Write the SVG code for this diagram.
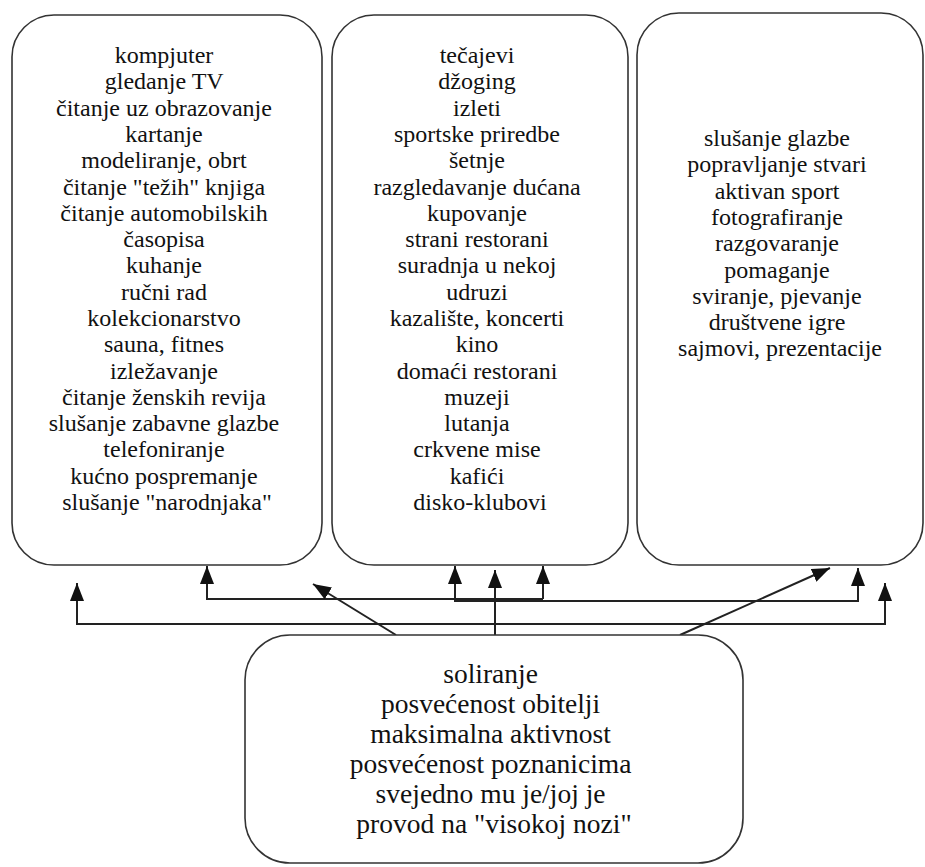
<svg xmlns="http://www.w3.org/2000/svg" width="925" height="867" viewBox="0 0 925 867">
<defs>
<style>
.box{fill:#fff;stroke:#333;stroke-width:1.6}
.t{font-family:"Liberation Serif","Times New Roman",serif;font-size:24px;fill:#111;text-anchor:middle}
.tb{font-family:"Liberation Serif","Times New Roman",serif;font-size:27.5px;fill:#111;text-anchor:middle}
.c{fill:none;stroke:#222;stroke-width:2}
</style>
<marker id="ah" markerUnits="userSpaceOnUse" markerWidth="18" markerHeight="14" refX="18" refY="7" orient="auto">
<path d="M0,0 L18,7 L0,14 z" fill="#111"/>
</marker>
</defs>
<rect width="925" height="867" fill="#fff"/>
<g id="connectors">
<polyline class="c" points="207,566 207,599 543,599"/>
<polyline class="c" points="455,566 455,601 858,601 858,568"/>
<line class="c" x1="543" y1="599" x2="543" y2="566" marker-end="url(#ah)"/>
<line class="c" x1="207" y1="599" x2="207" y2="566" marker-end="url(#ah)"/>
<line class="c" x1="455" y1="601" x2="455" y2="566" marker-end="url(#ah)"/>
<line class="c" x1="858" y1="601" x2="858" y2="568" marker-end="url(#ah)"/>
<polyline class="c" points="77,583 77,624 885,624 885,583"/>
<line class="c" x1="77" y1="624" x2="77" y2="583" marker-end="url(#ah)"/>
<line class="c" x1="885" y1="624" x2="885" y2="583" marker-end="url(#ah)"/>
<line class="c" x1="495" y1="635" x2="495" y2="570" marker-end="url(#ah)"/>
<line class="c" x1="396" y1="635" x2="313" y2="584" marker-end="url(#ah)"/>
<line class="c" x1="680" y1="635" x2="830" y2="568" marker-end="url(#ah)"/>
</g>
<g id="left">
<rect class="box" x="12" y="15" width="310" height="550" rx="42"/>
<text class="t" x="167" y="63">
<tspan x="167">kompjuter</tspan>
<tspan x="167" dy="26.3">gledanje TV</tspan>
<tspan x="167" dy="26.3">čitanje uz obrazovanje</tspan>
<tspan x="167" dy="26.3">kartanje</tspan>
<tspan x="167" dy="26.3">modeliranje, obrt</tspan>
<tspan x="167" dy="26.3">čitanje "težih" knjiga</tspan>
<tspan x="167" dy="26.3">čitanje automobilskih</tspan>
<tspan x="167" dy="26.3">časopisa</tspan>
<tspan x="167" dy="26.3">kuhanje</tspan>
<tspan x="167" dy="26.3">ručni rad</tspan>
<tspan x="167" dy="26.3">kolekcionarstvo</tspan>
<tspan x="167" dy="26.3">sauna, fitnes</tspan>
<tspan x="167" dy="26.3">izležavanje</tspan>
<tspan x="167" dy="26.3">čitanje ženskih revija</tspan>
<tspan x="167" dy="26.3">slušanje zabavne glazbe</tspan>
<tspan x="167" dy="26.3">telefoniranje</tspan>
<tspan x="167" dy="26.3">kućno pospremanje</tspan>
<tspan x="167" dy="26.3">slušanje "narodnjaka"</tspan>
</text>
</g>
<g id="middle">
<rect class="box" x="332" y="15" width="296" height="550" rx="42"/>
<text class="t" x="480" y="63">
<tspan x="480">tečajevi</tspan>
<tspan x="480" dy="26.3">džoging</tspan>
<tspan x="480" dy="26.3">izleti</tspan>
<tspan x="480" dy="26.3">sportske priredbe</tspan>
<tspan x="480" dy="26.3">šetnje</tspan>
<tspan x="480" dy="26.3">razgledavanje dućana</tspan>
<tspan x="480" dy="26.3">kupovanje</tspan>
<tspan x="480" dy="26.3">strani restorani</tspan>
<tspan x="480" dy="26.3">suradnja u nekoj</tspan>
<tspan x="480" dy="26.3">udruzi</tspan>
<tspan x="480" dy="26.3">kazalište, koncerti</tspan>
<tspan x="480" dy="26.3">kino</tspan>
<tspan x="480" dy="26.3">domaći restorani</tspan>
<tspan x="480" dy="26.3">muzeji</tspan>
<tspan x="480" dy="26.3">lutanja</tspan>
<tspan x="480" dy="26.3">crkvene mise</tspan>
<tspan x="480" dy="26.3">kafići</tspan>
<tspan x="480" dy="26.3">disko-klubovi</tspan>
</text>
</g>
<g id="right">
<rect class="box" x="637" y="13" width="286" height="552" rx="42"/>
<text class="t" x="780" y="146">
<tspan x="780">slušanje glazbe</tspan>
<tspan x="780" dy="26.3">popravljanje stvari</tspan>
<tspan x="780" dy="26.3">aktivan sport</tspan>
<tspan x="780" dy="26.3">fotografiranje</tspan>
<tspan x="780" dy="26.3">razgovaranje</tspan>
<tspan x="780" dy="26.3">pomaganje</tspan>
<tspan x="780" dy="26.3">sviranje, pjevanje</tspan>
<tspan x="780" dy="26.3">društvene igre</tspan>
<tspan x="780" dy="26.3">sajmovi, prezentacije</tspan>
</text>
</g>
<g id="bottom">
<rect class="box" x="245" y="635" width="498" height="228" rx="45"/>
<text class="tb" x="494" y="683">
<tspan x="494">soliranje</tspan>
<tspan x="494" dy="30">posvećenost obitelji</tspan>
<tspan x="494" dy="30">maksimalna aktivnost</tspan>
<tspan x="494" dy="30">posvećenost poznanicima</tspan>
<tspan x="494" dy="30">svejedno mu je/joj je</tspan>
<tspan x="494" dy="30">provod na "visokoj nozi"</tspan>
</text>
</g>
</svg>
